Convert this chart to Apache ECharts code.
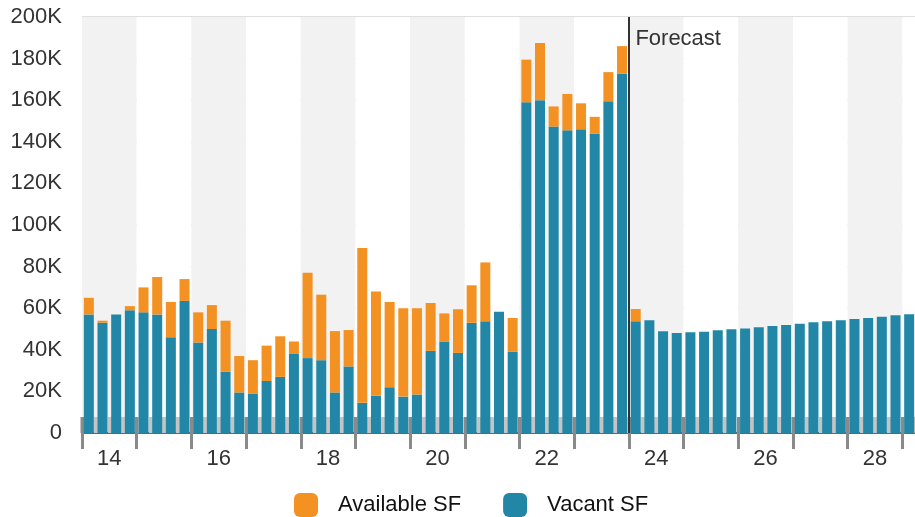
<!DOCTYPE html>
<html>
<head>
<meta charset="utf-8">
<title>Available vs Vacant SF</title>
<script src="https://cdn.jsdelivr.net/npm/echarts@6/dist/echarts.min.js"></script>
<style>
  html, body { margin: 0; padding: 0; background: #fff; }
  #chart { width: 915px; height: 517px; }
</style>
</head>
<body>
<div id="chart"></div>
<script>
// years on the axis (two-digit), one band per year
var years = ['14', '15', '16', '17', '18', '19', '20', '21', '22', '23', '24', '25', '26', '27', '28', '29'];
var quartersPerYear = ['Q1', 'Q2', 'Q3', 'Q4'];
var forecastStart = '2024 Q1';

// thousands of SF, 2014 Q1 .. 2029 Q1
var vacant = [
  57, 53, 57, 59,   58, 57, 46, 63.5,   43.5, 50, 29.5, 19.5,   19, 25, 27, 38,
  36, 35, 19.5, 32,   14.5, 18, 22, 17.5,   18.5, 39.5, 44, 38.5,   53, 53.7, 58.3, 39,
  159, 160, 147.3, 145.5,   146, 144, 159.5, 172.7,
  53.7, 54.2, 48.9, 48.1,   48.4, 48.7, 49.4, 49.9,   50.3, 50.8, 51.4, 51.9,
  52.5, 53.2, 53.7, 54.2,   54.8, 55.3, 55.9, 56.6,   57.1
];
var available = [
  65, 54, 57, 61,   70, 75, 63, 74,   58, 61.5, 54, 37,   35, 42, 46.5, 44,
  77, 66.5, 49, 49.5,   89, 68, 63, 60,   60, 62.5, 57.5, 59.5,   71, 82, 58.3, 55.3,
  179.5, 187.5, 157, 163,   158.5, 152, 173.5, 186,
  59.6, 54.2, 48.9, 48.1,   48.4, 48.7, 49.4, 49.9,   50.3, 50.8, 51.4, 51.9,
  52.5, 53.2, 53.7, 54.2,   54.8, 55.3, 55.9, 56.6,   57.1
];
var yTicks = { min: 0, max: 200, step: 20 };

var quarters = [];
years.forEach(function(y) {
  quartersPerYear.forEach(function(q) {
    if (quarters.length < vacant.length) quarters.push('20' + y + ' ' + q);
  });
});
// quarter boundaries (one more than quarters), used for year ticks and labels
var bounds = [];
for (var i = 0; i <= quarters.length; i++) bounds.push('b' + i);
var forecastBound = 'b' + quarters.indexOf(forecastStart);

var extra = available.map(function(v, i) { return +(v - vacant[i]).toFixed(1); });

var FONT = '"Liberation Sans", Arial, Helvetica, sans-serif';
var chart = echarts.init(document.getElementById('chart'));

var boundAxis = function(inside, labels) {
  return {
    type: 'category',
    data: bounds,
    position: 'bottom',
    boundaryGap: false,
    axisLine: { show: false },
    axisTick: {
      show: true,
      inside: inside,
      length: 16,
      interval: function(idx) { return idx % 4 === 0; },
      lineStyle: { color: '#8a8a8a', width: 3 }
    },
    axisLabel: {
      show: labels,
      interval: function(idx) { return idx % 8 === 2; },
      formatter: function(v, idx) { return years[Math.floor(idx / 4)]; },
      fontFamily: FONT,
      fontSize: 22,
      color: '#333',
      margin: 15
    },
    splitLine: { show: false }
  };
};

chart.setOption({
  animation: false,
  textStyle: { fontFamily: FONT },
  grid: { left: 82, top: 17, width: 834, bottom: 84, outerBoundsMode: 'none' },
  legend: {
    data: ['Available SF', 'Vacant SF'],
    left: 289,
    top: 488,
    icon: 'roundRect',
    itemWidth: 24,
    itemHeight: 24,
    itemGap: 42,
    textStyle: { fontFamily: FONT, fontSize: 22, color: '#111', padding: [0, 0, 0, 15] }
  },
  xAxis: [
    {
      type: 'category',
      data: quarters,
      position: 'bottom',
      boundaryGap: true,
      axisLine: { lineStyle: { color: '#666', width: 2 } },
      axisTick: { show: true, inside: true, interval: 0, length: 16, lineStyle: { color: '#c4c4c4', width: 4 } },
      axisLabel: { show: false },
      splitLine: { show: false },
      splitArea: { show: true, interval: 3, areaStyle: { color: ['#f2f2f2', '#ffffff'] } }
    },
    boundAxis(false, true),
    boundAxis(true, false)
  ],
  yAxis: {
    type: 'value',
    min: yTicks.min,
    max: yTicks.max,
    interval: yTicks.step,
    axisLine: { show: false },
    axisTick: { show: false },
    axisLabel: {
      fontFamily: FONT,
      fontSize: 22,
      color: '#333',
      margin: 20,
      formatter: function(v) { return v === 0 ? '0' : v + 'K'; }
    },
    splitLine: { lineStyle: { color: '#d4d4d4', width: 1.5 } }
  },
  series: [
    {
      name: 'Vacant SF',
      type: 'bar',
      stack: 'sf',
      xAxisIndex: 0,
      barWidth: 10,
      itemStyle: { color: '#2287a6' },
      data: vacant
    },
    {
      name: 'Available SF',
      type: 'bar',
      stack: 'sf',
      xAxisIndex: 0,
      barWidth: 10,
      itemStyle: { color: '#f39122' },
      data: extra
    },
    {
      name: 'forecast',
      type: 'line',
      xAxisIndex: 1,
      data: [],
      markLine: {
        silent: true,
        symbol: 'none',
        label: { show: false },
        lineStyle: { color: '#333', width: 2, type: 'solid' },
        data: [{ xAxis: forecastBound }]
      },
      markPoint: {
        silent: true,
        symbol: 'rect',
        symbolSize: 1,
        itemStyle: { color: 'rgba(0,0,0,0)' },
        label: {
          show: true,
          position: [7, 11],
          align: 'left',
          verticalAlign: 'top',
          formatter: 'Forecast',
          fontFamily: FONT,
          fontSize: 22,
          color: '#333'
        },
        data: [{ coord: [forecastBound, yTicks.max] }]
      }
    }
  ]
});
</script>
</body>
</html>
